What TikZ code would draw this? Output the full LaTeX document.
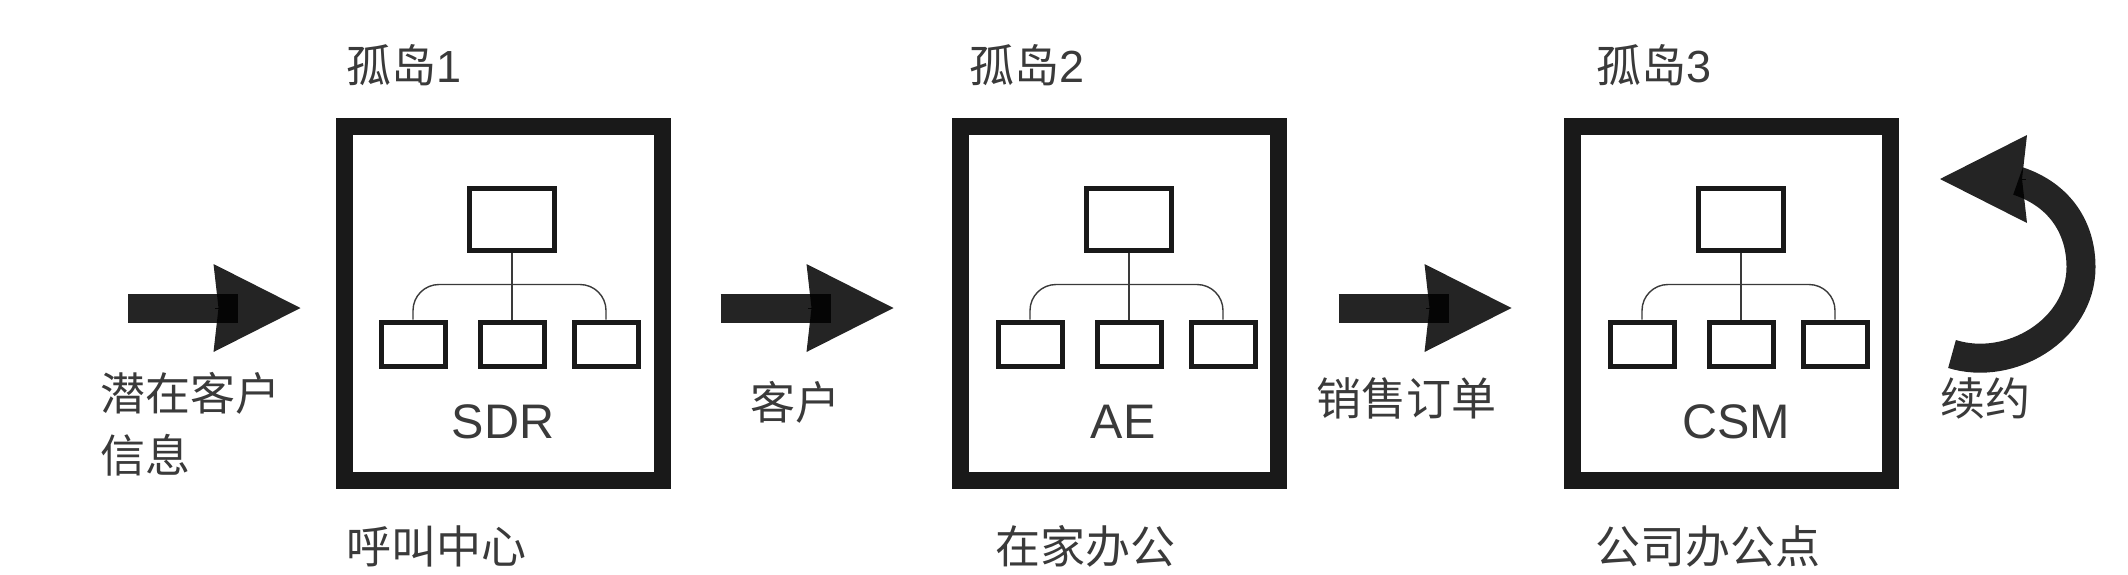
\documentclass[tikz,border=0pt]{standalone}
\usepackage{fontspec}
\setmainfont{Liberation Sans}
\newfontfamily\cjk{Noto Sans CJK SC}
\usetikzlibrary{arrows.meta,positioning}
\definecolor{inktext}{HTML}{3A3A3A}
\begin{document}
\begin{tikzpicture}[x=1pt, y=-1pt,
  island/.style={draw=black!90, line width=17pt, minimum width=318pt, minimum height=354pt},
  boss/.style={draw=black!90, line width=5pt, minimum width=85pt, minimum height=62pt},
  staff/.style={draw=black!90, line width=5pt, minimum width=64pt, minimum height=44pt},
  wire/.style={draw=inktext, line width=1.4pt, rounded corners=26pt},
  shaft/.style={draw=black, draw opacity=.86, line width=29pt},
  barb/.style={-{Stealth[length=87pt, width=88pt, inset=5pt, color=black]}, line width=0pt, opacity=.86},
  lab/.style={font=\fontsize{45}{62}\selectfont\cjk, text=inktext, inner sep=0pt, anchor=west, align=left},
  role/.style={font=\fontsize{48.5}{50}\selectfont, text=inktext, inner sep=0pt}]
\useasboundingbox (0,0) rectangle (2128,574);
% islands
\node[island] (box1) at (503,303) {};
\node[island, right=281pt of box1] (box2) {};
\node[island, right=277pt of box2] (box3) {};
% island 1
\node[boss] (boss1) at ([xshift=9pt,yshift=84pt]box1.center) {};
\node[staff, below=67pt of boss1] (sub12) {};
\node[staff, left=30pt of sub12] (sub11) {};
\node[staff, right=25pt of sub12] (sub13) {};
\coordinate (hub1) at ([yshift=35pt]sub12.north);
\draw[wire] (sub11.north) |- (hub1) -| (sub13.north);
\draw[wire] (boss1) -- (sub12);
\node[role] (role1) at ([yshift=-119pt]box1.center) {SDR};
\node[lab] (isle1) at (346,65) {孤岛{\fontfamily{\rmdefault}\selectfont 1}};
\node[lab] (site1) at (346,546) {呼叫中心};
% island 2
\node[boss] (boss2) at ([xshift=10pt,yshift=84pt]box2.center) {};
\node[staff, below=67pt of boss2] (sub22) {};
\node[staff, left=30pt of sub22] (sub21) {};
\node[staff, right=25pt of sub22] (sub23) {};
\coordinate (hub2) at ([yshift=35pt]sub22.north);
\draw[wire] (sub21.north) |- (hub2) -| (sub23.north);
\draw[wire] (boss2) -- (sub22);
\node[role] (role2) at ([xshift=4pt,yshift=-119pt]box2.center) {AE};
\node[lab] (isle2) at (969,65) {孤岛{\fontfamily{\rmdefault}\selectfont 2}};
\node[lab] (site2) at (995,546) {在家办公};
% island 3
\node[boss] (boss3) at ([xshift=10pt,yshift=84pt]box3.center) {};
\node[staff, below=67pt of boss3] (sub32) {};
\node[staff, left=30pt of sub32] (sub31) {};
\node[staff, right=25pt of sub32] (sub33) {};
\coordinate (hub3) at ([yshift=35pt]sub32.north);
\draw[wire] (sub31.north) |- (hub3) -| (sub33.north);
\draw[wire] (boss3) -- (sub32);
\node[role] (role3) at ([xshift=5pt,yshift=-119pt]box3.center) {CSM};
\node[lab] (isle3) at (1596,65) {孤岛{\fontfamily{\rmdefault}\selectfont 3}};
\node[lab] (site3) at (1595,546) {公司办公点};
% straight arrows
\coordinate (tail1) at (128,308);
\coordinate (tip1) at ([xshift=-35pt,yshift=-5pt]box1.west);
\coordinate (back1) at ([xshift=-85pt]tip1);
\coordinate (tail2) at ([xshift=50pt,yshift=-5pt]box1.east);
\coordinate (tip2) at ([xshift=-58pt,yshift=-5pt]box2.west);
\coordinate (back2) at ([xshift=-85pt]tip2);
\coordinate (tail3) at ([xshift=52pt,yshift=-5pt]box2.east);
\coordinate (tip3) at ([xshift=-52pt,yshift=-5pt]box3.west);
\coordinate (back3) at ([xshift=-85pt]tip3);
\draw[shaft, shorten >=63pt] (tail1) -- (tip1);
\draw[barb] (back1) -- (tip1);
\draw[shaft, shorten >=63pt] (tail2) -- (tip2);
\draw[barb] (back2) -- (tip2);
\draw[shaft, shorten >=63pt] (tail3) -- (tip3);
\draw[barb] (back3) -- (tip3);
% renewal arrow
\coordinate (tail4) at (1952,354);
\coordinate (neck4) at (2018,181);
\coordinate (tip4) at (1940,179);
\coordinate (back4) at ([xshift=85pt]tip4);
\draw[shaft] (tail4) .. controls (2010,372) and (2081,330) .. (2081,267) .. controls (2081,228) and (2060,195) .. (neck4);
\draw[barb] (back4) -- (tip4);
% flow labels
\node[lab] (lead) at (100,424) {潜在客户\\信息};
\node[lab] (cust) at (750,402) {客户};
\node[lab] (order) at (1316,398) {销售订单};
\node[lab] (renew) at (1940,398) {续约};
\end{tikzpicture}
\end{document}
